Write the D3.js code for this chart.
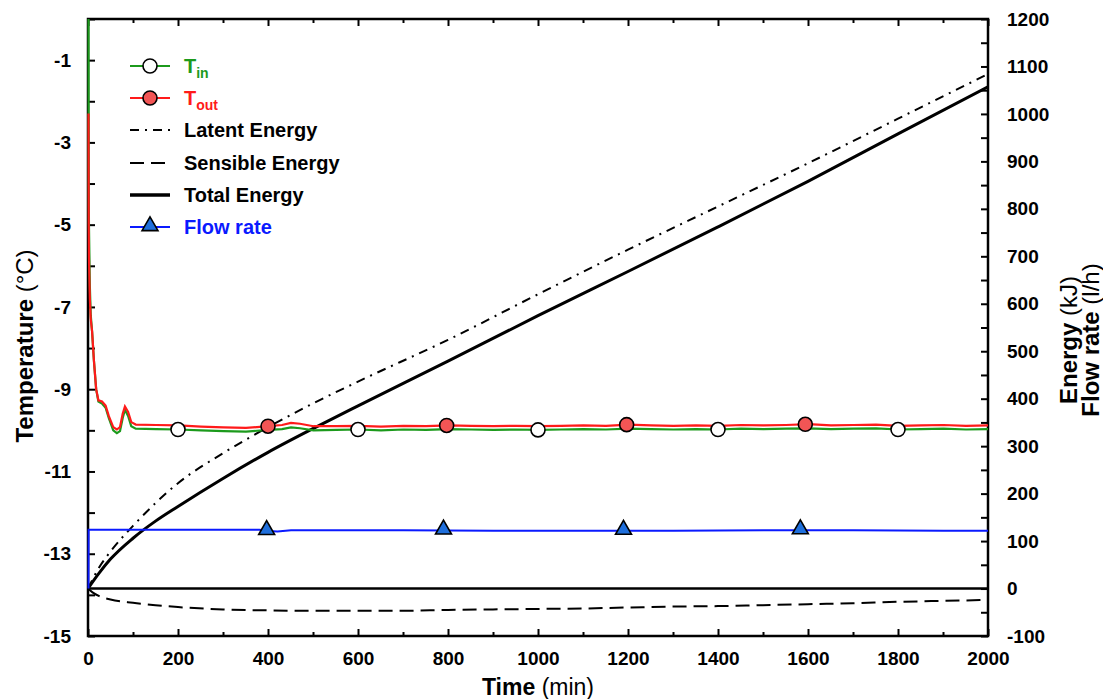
<!DOCTYPE html>
<html><head><meta charset="utf-8">
<script src="https://cdn.jsdelivr.net/npm/d3@7"></script>
<style>body{margin:0;background:#fff}svg{display:block;font-family:"Liberation Sans",Arial,sans-serif}</style>
</head><body>
<svg id="c" width="1103" height="699"></svg>
<script>
// ---- data ----
const tempTimes = [0,0.5,1,3,5,8,12,17,22,30,38,45,55,63,70,76,81,88,95,105,150,200,250,300,350,400,430,450,470,500,550,600,650,700,750,800,850,900,950,1000,1050,1100,1150,1200,1250,1300,1350,1400,1450,1500,1550,1600,1650,1700,1750,1800,1850,1900,1950,2000];
const tIn  = [0.5,-4.0,-5.0,-6.5,-7.2,-7.6,-8.3,-9.0,-9.3,-9.35,-9.45,-9.7,-10.0,-10.07,-10.02,-9.7,-9.5,-9.65,-9.9,-9.96,-9.97,-9.98,-10.0,-10.02,-10.03,-9.99,-9.97,-9.93,-9.95,-10.0,-9.99,-9.98,-10.0,-9.98,-9.99,-9.97,-9.98,-9.99,-9.98,-9.99,-9.98,-9.97,-9.98,-9.96,-9.97,-9.98,-9.97,-9.98,-9.96,-9.97,-9.96,-9.95,-9.97,-9.96,-9.95,-9.98,-9.97,-9.96,-9.98,-9.97];
const tOut = [-2.3,-5.0,-5.8,-6.8,-7.3,-7.6,-8.3,-9.0,-9.27,-9.3,-9.4,-9.65,-9.92,-9.98,-9.92,-9.6,-9.42,-9.55,-9.8,-9.86,-9.87,-9.88,-9.91,-9.93,-9.94,-9.9,-9.87,-9.82,-9.84,-9.9,-9.9,-9.89,-9.91,-9.89,-9.9,-9.88,-9.89,-9.9,-9.89,-9.9,-9.89,-9.88,-9.89,-9.86,-9.88,-9.89,-9.88,-9.89,-9.87,-9.88,-9.87,-9.85,-9.88,-9.87,-9.86,-9.89,-9.88,-9.87,-9.89,-9.88];
const inMarkT  = [200,600,1000,1400,1800];
const outMarkT = [400,797,1197,1594];

const eTimes   = [0,25,50,100,150,200,300,400,500,600,800,1000,1200,1400,1600,1800,2000];
const latent   = [0,45,78,132,180,222,285,340,390,436,524,620,714,805,896,990,1084];
const total    = [0,33,62,106,142,173,232,287,337,385,479,575,668,762,858,958,1057];
const sensTimes= [0,10,25,50,100,150,200,300,400,500,600,700,800,900,1000,1100,1200,1300,1400,1500,1600,1700,1800,1900,2000];
const sensible = [0,-8,-16,-23,-30,-35,-39,-44,-46,-47,-47,-47,-45,-44,-43,-42,-40,-38,-37,-35,-33,-31,-28,-26,-24];

const flowTimes = [0,0.3,50,100,200,300,380,400,420,450,500,700,900,1100,1300,1500,1700,1900,2000];
const flow      = [0,124,124,124,124,124,124,121,120,123,123,123,122,122,122,123,123,122,122];
const flowMarkT = [397,790,1190,1583];

const xTicks = [0,200,400,600,800,1000,1200,1400,1600,1800,2000];
const tTicks = [-15,-13,-11,-9,-7,-5,-3,-1];
const eTicks = [-100,0,100,200,300,400,500,600,700,800,900,1000,1100,1200];

// ---- layout ----
const L=88,R=988,T=19,B=636;
const svg=d3.select("#c");
const x=d3.scaleLinear().domain([0,2000]).range([L,R]);
const yT=d3.scaleLinear().domain([-15,0]).range([B,T]);
const yE=d3.scaleLinear().domain([-100,1200]).range([B,T]);

const GREEN="#1c9a1c", RED="#ff1a1a", BLUE="#0a1aff";
const FONT="Liberation Sans, Arial, sans-serif";

svg.append("clipPath").attr("id","clip").append("rect").attr("x",L-1).attr("y",T).attr("width",R-L+1).attr("height",B-T);

// axes
const fs=19;
function styleAxis(sel){sel.select(".domain").remove();sel.selectAll("line").attr("stroke","#000").attr("stroke-width",2);}
const ab=svg.append("g").attr("transform",`translate(0,${B})`).call(d3.axisBottom(x).tickValues(d3.range(0,2001,100)).tickSize(-7).tickFormat(d=>xTicks.includes(d)?d:"").tickPadding(16));
styleAxis(ab); ab.selectAll(".tick").filter(d=>d%200!==0).select("line").attr("y2",-4);
ab.selectAll("text").attr("font-size",fs).attr("font-weight","bold").attr("fill","#000").attr("font-family",FONT);
const at=svg.append("g").attr("transform",`translate(0,${T})`).call(d3.axisTop(x).tickValues(d3.range(0,2001,100)).tickSize(-7).tickFormat(""));
styleAxis(at); at.selectAll(".tick").filter(d=>d%200!==0).select("line").attr("y2",4);
const al=svg.append("g").attr("transform",`translate(${L},0)`).call(d3.axisLeft(yT).tickValues(d3.range(-15,0.01,1)).tickSize(-7).tickFormat(d=>tTicks.includes(d)?d:"").tickPadding(17));
styleAxis(al);
al.selectAll("text").attr("font-size",fs).attr("font-weight","bold").attr("fill","#000").attr("font-family",FONT).text(d=>tTicks.includes(d)?("-"+Math.abs(d)):"");
const ar=svg.append("g").attr("transform",`translate(${R},0)`).call(d3.axisRight(yE).tickValues(d3.range(-100,1201,50)).tickSize(-7).tickFormat(d=>eTicks.includes(d)?(d<0?"-"+Math.abs(d):d):"").tickPadding(19));
styleAxis(ar);
ar.selectAll("text").attr("font-size",fs).attr("font-weight","bold").attr("fill","#000").attr("font-family",FONT);

// frame
svg.append("rect").attr("x",L).attr("y",T).attr("width",R-L).attr("height",B-T).attr("fill","none").attr("stroke","#000").attr("stroke-width",2.5);

const g=svg.append("g").attr("clip-path","url(#clip)");
// zero energy line
g.append("line").attr("x1",L).attr("x2",R).attr("y1",yE(0)).attr("y2",yE(0)).attr("stroke","#000").attr("stroke-width",2.5);

const lineT=(ts,vs)=>d3.line().x((d,i)=>x(ts[i])+0.5).y(d=>yT(d))(vs);
const lineE=(ts,vs)=>d3.line().curve(d3.curveMonotoneX).x((d,i)=>x(ts[i])).y(d=>yE(d))(vs);

g.append("path").attr("d",lineE(sensTimes,sensible)).attr("fill","none").attr("stroke","#000").attr("stroke-width",2).attr("stroke-dasharray","14,7");
g.append("path").attr("d",lineE(eTimes,latent)).attr("fill","none").attr("stroke","#000").attr("stroke-width",2).attr("stroke-dasharray","9,6,2,6");
g.append("path").attr("d",lineE(eTimes,total)).attr("fill","none").attr("stroke","#000").attr("stroke-width",3);

g.append("path").attr("d",d3.line().x((d,i)=>x(flowTimes[i])+0.5).y(d=>yE(d))(flow)).attr("fill","none").attr("stroke",BLUE).attr("stroke-width",2);

g.append("path").attr("d",lineT(tempTimes,tIn)).attr("fill","none").attr("stroke",GREEN).attr("stroke-width",2.2);
g.append("path").attr("d",lineT(tempTimes,tOut)).attr("fill","none").attr("stroke",RED).attr("stroke-width",2.2);

const interp=(ts,vs,t)=>{for(let i=1;i<ts.length;i++){if(t<=ts[i]){const f=(t-ts[i-1])/(ts[i]-ts[i-1]);return vs[i-1]+f*(vs[i]-vs[i-1]);}}return vs[vs.length-1];};

svg.selectAll(".mi").data(inMarkT).join("circle").attr("cx",d=>x(d)).attr("cy",d=>yT(interp(tempTimes,tIn,d))).attr("r",7).attr("fill","#fff").attr("stroke","#000").attr("stroke-width",1.6);
svg.selectAll(".mo").data(outMarkT).join("circle").attr("cx",d=>x(d)).attr("cy",d=>yT(interp(tempTimes,tOut,d))).attr("r",7).attr("fill","#f25555").attr("stroke","#000").attr("stroke-width",1.6);
const tri=d3.symbol().type(d3.symbolTriangle).size(110);
svg.selectAll(".mf").data(flowMarkT).join("path").attr("d",tri).attr("transform",d=>`translate(${x(d)},${yE(interp(flowTimes,flow,d))-1})`).attr("fill","#1f6fdc").attr("stroke","#000").attr("stroke-width",1.6);

// axis titles
const tf=24;
const tx=svg.append("text").attr("x",538).attr("y",695).attr("text-anchor","middle").attr("font-size",tf-1);
tx.append("tspan").attr("font-weight","bold").text("Time");
tx.append("tspan").text(" (min)");
const ty=svg.append("text").attr("transform","translate(33,346) rotate(-90)").attr("text-anchor","middle").attr("font-size",tf);
ty.append("tspan").attr("font-weight","bold").text("Temperature");
ty.append("tspan").text(" (°C)");
const te=svg.append("text").attr("transform","translate(1077,340) rotate(-90)").attr("text-anchor","middle").attr("font-size",tf);
te.append("tspan").attr("font-weight","bold").text("Energy");
te.append("tspan").text(" (kJ)");
const tfl=svg.append("text").attr("transform","translate(1099,340) rotate(-90)").attr("text-anchor","middle").attr("font-size",tf);
tfl.append("tspan").attr("font-weight","bold").text("Flow rate");
tfl.append("tspan").text(" (l/h)");

// legend
const legend=[
 {label:"T",sub:"in",color:GREEN,text:GREEN,marker:"open"},
 {label:"T",sub:"out",color:RED,text:RED,marker:"red"},
 {label:"Latent Energy",color:"#000",text:"#000",dash:"9,6,2,6",w:2},
 {label:"Sensible Energy",color:"#000",text:"#000",dash:"14,7",w:2},
 {label:"Total Energy",color:"#000",text:"#000",w:3.5},
 {label:"Flow rate",color:BLUE,text:BLUE,marker:"tri"}
];
const ly=[66,98,130,163,195,227];
legend.forEach((d,i)=>{
  const y=ly[i];
  const gg=svg.append("g");
  gg.append("line").attr("x1",130).attr("x2",170).attr("y1",y).attr("y2",y).attr("stroke",d.color).attr("stroke-width",d.w||2).attr("stroke-dasharray",d.dash||null);
  if(d.marker==="open") gg.append("circle").attr("cx",150).attr("cy",y).attr("r",7).attr("fill","#fff").attr("stroke","#000").attr("stroke-width",1.6);
  if(d.marker==="red") gg.append("circle").attr("cx",150).attr("cy",y).attr("r",7).attr("fill","#f25555").attr("stroke","#000").attr("stroke-width",1.6);
  if(d.marker==="tri") gg.append("path").attr("d",tri).attr("transform",`translate(150,${y-1})`).attr("fill","#1f6fdc").attr("stroke","#000").attr("stroke-width",1.6);
  const t=gg.append("text").attr("x",184).attr("y",y+7).attr("font-size",20).attr("font-weight","bold").attr("fill",d.text);
  t.append("tspan").text(d.label);
  if(d.sub) t.append("tspan").attr("font-size",14).attr("dy",5).text(d.sub);
});
</script>
</body></html>
